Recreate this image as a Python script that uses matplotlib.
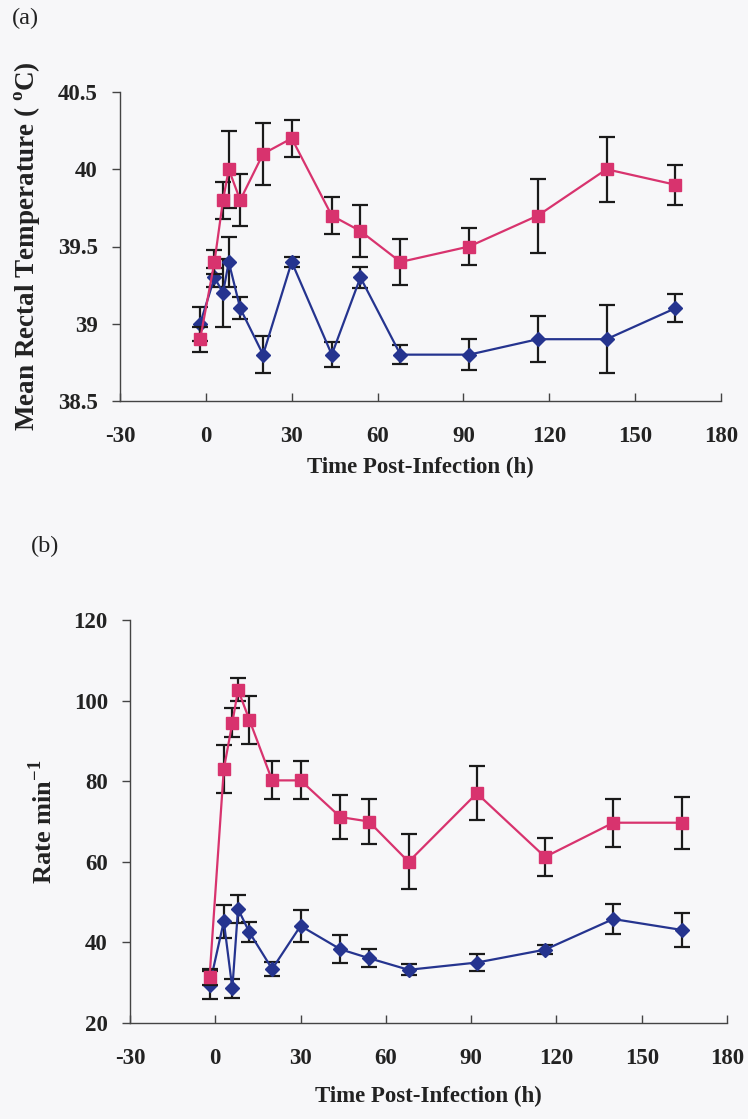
import matplotlib
matplotlib.use("Agg")
import matplotlib.pyplot as plt

plt.rcParams['font.family'] = ['Liberation Serif', 'DejaVu Serif']
plt.rcParams['axes.unicode_minus'] = False

# ---- data ----
time_h = [-2, 3, 6, 8, 12, 20, 30, 44, 54, 68, 92, 116, 140, 164]

temp_red = [38.9, 39.4, 39.8, 40.0, 39.8, 40.1, 40.2, 39.7, 39.6, 39.4, 39.5, 39.7, 40.0, 39.9]
temp_red_err = [0.08, 0.08, 0.12, 0.25, 0.17, 0.2, 0.12, 0.12, 0.17, 0.15, 0.12, 0.24, 0.21, 0.13]
temp_blue = [39.0, 39.3, 39.2, 39.4, 39.1, 38.8, 39.4, 38.8, 39.3, 38.8, 38.8, 38.9, 38.9, 39.1]
temp_blue_err = [0.11, 0.06, 0.22, 0.16, 0.07, 0.12, 0.03, 0.08, 0.07, 0.06, 0.1, 0.15, 0.22, 0.09]

rate_red = [31.5, 83, 94.5, 102.7, 95.2, 80.2, 80.2, 71.1, 70, 60, 77, 61.2, 69.7, 69.7]
rate_red_err = [2, 6, 3.6, 2.8, 6, 4.7, 4.7, 5.5, 5.6, 6.8, 6.7, 4.7, 6, 6.5]
rate_blue = [29.4, 45.2, 28.6, 48.3, 42.5, 33.4, 44.1, 38.3, 36.1, 33.2, 35, 38.2, 45.8, 43.1]
rate_blue_err = [3.5, 4, 2.4, 3.5, 2.5, 1.7, 4, 3.5, 2.2, 1.4, 2.1, 1.2, 3.8, 4.2]

x_ticks = [-30, 0, 30, 60, 90, 120, 150, 180]
temp_ticks = [38.5, 39, 39.5, 40, 40.5]
temp_ticklabels = ['38.5', '39', '39.5', '40', '40.5']
rate_ticks = [20, 40, 60, 80, 100, 120]

xlabel = 'Time Post-Infection (h)'
temp_ylabel = r'Mean Rectal Temperature ( $^{\mathregular{o}}$C)'
rate_ylabel = r'Rate min$^{\mathregular{-1}}$'

RED = '#D8336E'
BLUE = '#25348F'
BG = '#F7F7F9'
TXT = '#222222'

W, H = 748, 1119
fig = plt.figure(figsize=(W / 100, H / 100), dpi=100, facecolor=BG)


def make_ax(left, right, top, bottom):
    return fig.add_axes([left / W, 1 - bottom / H, (right - left) / W, (bottom - top) / H])


def style(ax, yticks, ylim, yticklabels=None):
    ax.set_facecolor(BG)
    ax.set_xlim(-30, 180)
    ax.set_ylim(*ylim)
    ax.set_xticks(x_ticks)
    ax.set_yticks(yticks)
    if yticklabels is not None:
        ax.set_yticklabels(yticklabels)
    for s in ['top', 'right']:
        ax.spines[s].set_visible(False)
    for s in ['left', 'bottom']:
        ax.spines[s].set_color('#444444')
        ax.spines[s].set_linewidth(1.0)
    ax.tick_params(axis='y', direction='out', length=6, width=1, color='#444444', pad=10)
    ax.tick_params(axis='x', direction='in', length=6, width=1, color='#444444', pad=18)
    for lab in ax.get_xticklabels() + ax.get_yticklabels():
        lab.set_fontsize(16.5)
        lab.set_fontweight('bold')
        lab.set_color(TXT)


def draw(ax, yr, er, yb, eb):
    ax.errorbar(time_h, yb, yerr=eb, color=BLUE, marker='D', markersize=7,
                lw=1.6, ecolor='#1a1a1a', elinewidth=1.6, capsize=6, capthick=1.6, zorder=3)
    ax.errorbar(time_h, yr, yerr=er, color=RED, marker='s', markersize=8,
                lw=1.6, ecolor='#1a1a1a', elinewidth=1.6, capsize=6, capthick=1.6, zorder=4)


def labels(ax, ylab, yfs, xl_y, yl_x):
    ax.set_xlabel(xlabel, fontsize=16.5, fontweight='bold', color=TXT)
    ax.set_ylabel(ylab, fontsize=yfs, fontweight='bold', color=TXT)
    ax.xaxis.label.set_verticalalignment('center')
    ax.yaxis.label.set_verticalalignment('center')
    ax.xaxis.set_label_coords(0.5, xl_y)
    ax.yaxis.set_label_coords(yl_x, 0.5)


# panel (a): pixel box left 120, right 721, top 92, bottom 401
ax1 = make_ax(120, 721, 92, 401)
draw(ax1, temp_red, temp_red_err, temp_blue, temp_blue_err)
style(ax1, temp_ticks, (38.5, 40.5), temp_ticklabels)
labels(ax1, temp_ylabel, 19.5, -66 / 309, (27 - 120) / 601)

# panel (b): pixel box left 130, right 727, top 620, bottom 1023
ax2 = make_ax(130, 727, 620, 1023)
draw(ax2, rate_red, rate_red_err, rate_blue, rate_blue_err)
style(ax2, rate_ticks, (20, 120))
labels(ax2, rate_ylabel, 19, -73 / 403, (43 - 130) / 597)

fig.text(12 / W, 1 - 18 / H, '(a)', fontsize=17.5, va='center', ha='left', color=TXT)
fig.text(31 / W, 1 - 546 / H, '(b)', fontsize=17.5, va='center', ha='left', color=TXT)

fig.savefig('out.png', dpi=100, facecolor=BG)
